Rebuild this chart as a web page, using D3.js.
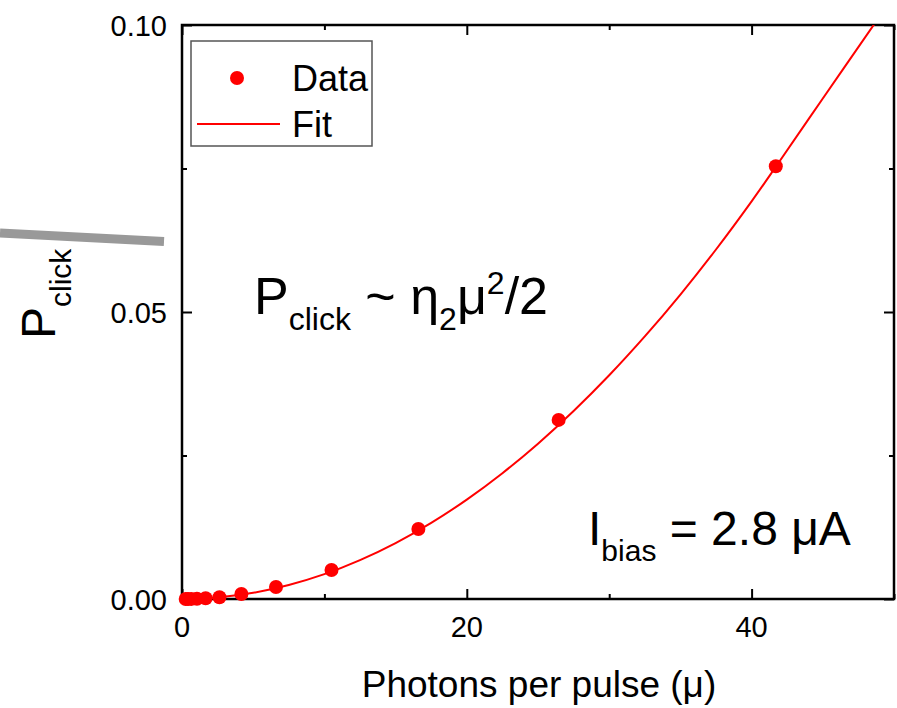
<!DOCTYPE html>
<html><head><meta charset="utf-8">
<script src="https://cdn.jsdelivr.net/npm/d3@7"></script>
<style>
html,body{margin:0;padding:0;background:#fff;}
svg text{font-family:"Liberation Sans",Arial,sans-serif;fill:#000;}
</style></head>
<body>
<svg id="chart" width="897" height="708"></svg>
<script>
// ---- data ----
const dataMu = [0.26, 0.42, 0.66, 1.05, 1.66, 2.63, 4.17, 6.6, 10.5, 16.6, 26.45, 41.7];
const dataP  = [0.00001, 0.00001, 0.00002, 0.00005, 0.00012, 0.0003, 0.00087, 0.0021, 0.00505, 0.0122, 0.0312, 0.0754];
const fitMu = [0, 2.5, 5, 7.5, 10, 12.5, 15, 17.5, 20, 22.5, 25, 27.5, 30, 32.5, 35, 37.5, 40, 41.7, 45, 48.6];
const fitP  = [0, 0.00027, 0.00108, 0.00244, 0.00433, 0.00677, 0.00974, 0.01326, 0.01732, 0.02192, 0.02706, 0.03275, 0.03897, 0.04574, 0.05304, 0.06089, 0.06928, 0.0753, 0.0872, 0.1001];
const xMajorTicks = [0, 20, 40];
const xMinorTicks = [10, 30, 50];
const yMajorTicks = [0, 0.05, 0.10];
const yMinorTicks = [0.025, 0.075];
const yTickLabels = ["0.00", "0.05", "0.10"];
const xLabel = "Photons per pulse (μ)";
const legendLabels = ["Data", "Fit"];

// ---- layout ----
const L = 182, R = 894, T = 25, B = 599;
const svg = d3.select("#chart");
const x = d3.scaleLinear().domain([0, 50]).range([L, R]);
const y = d3.scaleLinear().domain([0, 0.10]).range([B, T]);
const red = "#ff0000";

// decorative grey stroke at left
svg.append("line").attr("x1", 0).attr("y1", 233).attr("x2", 164).attr("y2", 241.5)
  .attr("stroke", "#999").attr("stroke-width", 9);

// axes (inward ticks, mirrored)
function styleAxis(g){
  g.select(".domain").remove();
  g.selectAll("line").attr("stroke", "#000").attr("stroke-width", 2);
  g.selectAll("text").remove();
}
const axB = g => g.attr("transform", `translate(0,${B})`);
svg.append("g").call(axB).call(d3.axisTop(x).tickValues(xMajorTicks).tickSize(10)).call(styleAxis);
svg.append("g").call(axB).call(d3.axisTop(x).tickValues(xMinorTicks).tickSize(5)).call(styleAxis);
svg.append("g").attr("transform", `translate(0,${T})`).call(d3.axisBottom(x).tickValues(xMajorTicks).tickSize(10)).call(styleAxis);
svg.append("g").attr("transform", `translate(0,${T})`).call(d3.axisBottom(x).tickValues(xMinorTicks).tickSize(5)).call(styleAxis);
svg.append("g").attr("transform", `translate(${L},0)`).call(d3.axisRight(y).tickValues(yMajorTicks).tickSize(10)).call(styleAxis);
svg.append("g").attr("transform", `translate(${L},0)`).call(d3.axisRight(y).tickValues(yMinorTicks).tickSize(5)).call(styleAxis);
svg.append("g").attr("transform", `translate(${R},0)`).call(d3.axisLeft(y).tickValues(yMajorTicks).tickSize(10)).call(styleAxis);
svg.append("g").attr("transform", `translate(${R},0)`).call(d3.axisLeft(y).tickValues(yMinorTicks).tickSize(5)).call(styleAxis);

svg.append("rect").attr("x", L).attr("y", T).attr("width", R - L).attr("height", B - T)
  .attr("fill", "none").attr("stroke", "#000").attr("stroke-width", 2.5);

// tick labels
svg.append("g").selectAll("text").data(xMajorTicks).join("text")
  .attr("x", d => x(d)).attr("y", 637).attr("text-anchor", "middle")
  .attr("font-size", 29).text(d => d);
svg.append("g").selectAll("text").data(yMajorTicks).join("text")
  .attr("x", 167).attr("y", d => y(d) + 10.5).attr("text-anchor", "end")
  .attr("font-size", 29).text((d, i) => yTickLabels[i]);

// axis titles
svg.append("text").attr("x", 539).attr("y", 697).attr("text-anchor", "middle")
  .attr("font-size", 37).text(xLabel);
const yl = svg.append("text").attr("transform", "translate(55,339) rotate(-90)").attr("font-size", 48);
yl.append("tspan").text("P");
yl.append("tspan").attr("font-size", 30).attr("dy", 16).text("click");

// fit line (clipped)
svg.append("clipPath").attr("id", "clip").append("rect")
  .attr("x", L).attr("y", T).attr("width", R - L).attr("height", B - T + 2);
const fitData = fitMu.map((m, i) => [m, fitP[i]]);
svg.append("path").datum(fitData)
  .attr("clip-path", "url(#clip)")
  .attr("fill", "none").attr("stroke", red).attr("stroke-width", 2)
  .attr("d", d3.line().x(d => x(d[0])).y(d => y(d[1])).curve(d3.curveCatmullRom));

// data points
svg.append("g").selectAll("circle").data(dataMu.map((m, i) => [m, dataP[i]])).join("circle")
  .attr("cx", d => x(d[0])).attr("cy", d => y(d[1])).attr("r", 7).attr("fill", red);

// legend
svg.append("rect").attr("x", 191).attr("y", 41).attr("width", 181).attr("height", 105)
  .attr("fill", "#fff").attr("stroke", "#555").attr("stroke-width", 1.5);
svg.append("circle").attr("cx", 237).attr("cy", 78).attr("r", 7).attr("fill", red);
svg.append("line").attr("x1", 197).attr("x2", 280).attr("y1", 124).attr("y2", 124)
  .attr("stroke", red).attr("stroke-width", 2);
svg.append("text").attr("x", 292).attr("y", 91).attr("font-size", 36).text(legendLabels[0]);
svg.append("text").attr("x", 292).attr("y", 137).attr("font-size", 36).text(legendLabels[1]);

// annotations
const a1 = svg.append("text").attr("x", 254).attr("y", 314).attr("font-size", 52);
a1.append("tspan").text("P");
a1.append("tspan").attr("font-size", 32).attr("dy", 16).text("click");
a1.append("tspan").attr("dy", -16).text(" ~ η");
a1.append("tspan").attr("font-size", 32).attr("dy", 16).text("2");
a1.append("tspan").attr("dy", -16).text("μ");
a1.append("tspan").attr("font-size", 32).attr("dy", -20).text("2");
a1.append("tspan").attr("dy", 20).text("/2");

const a2 = svg.append("text").attr("x", 588).attr("y", 545).attr("font-size", 48);
a2.append("tspan").text("I");
a2.append("tspan").attr("font-size", 30).attr("dy", 16).text("bias");
a2.append("tspan").attr("dy", -16).text(" = 2.8 μA");
</script>
</body></html>
